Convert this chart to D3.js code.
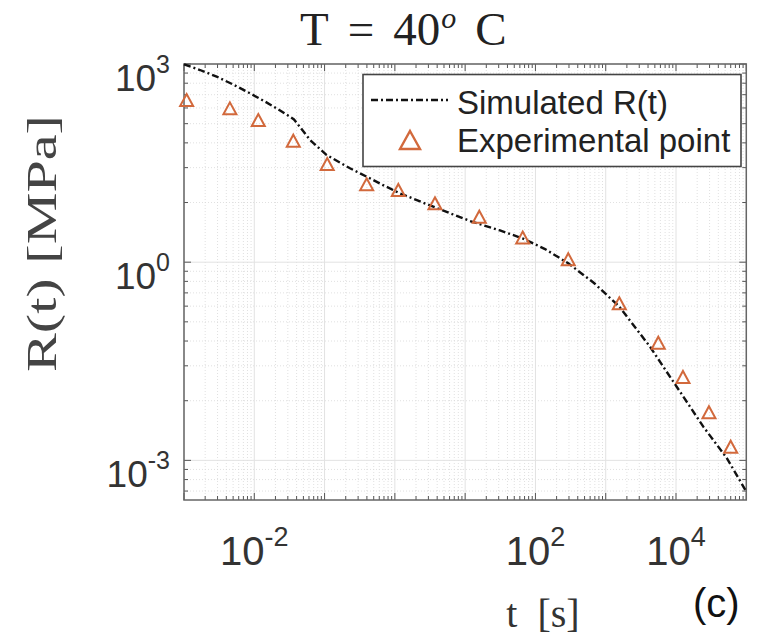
<!DOCTYPE html>
<html>
<head>
<meta charset="utf-8">
<script src="https://cdn.jsdelivr.net/npm/d3@7"></script>
<style>
  html, body { margin: 0; padding: 0; background: #fff; }
  svg { display: block; }
</style>
</head>
<body>
<svg id="chart" width="769" height="637"></svg>
<script>
// ---------- data ----------
const expTime = [0.00109, 0.0045, 0.0114, 0.0359, 0.109, 0.397, 1.12, 3.72, 15.9, 65.9, 293, 1560, 5600, 12560, 29440, 60000];
const expR    = [285, 213, 142, 69, 30.6, 15.1, 12.4, 7.78, 4.88, 2.36, 1.11, 0.239, 0.0604, 0.0183, 0.00536, 0.00161];

const simTime = [0.001, 0.00169, 0.00292, 0.00498, 0.00869, 0.0142, 0.0208, 0.0302, 0.0367, 0.0447, 0.0621, 0.107, 0.230, 0.397, 0.678, 1.18, 3.52, 11.7, 31.3, 66.5, 137, 293, 681, 1560, 4265, 10230, 24430, 52600, 98900];
const simR    = [990, 811, 643, 490, 360, 270, 213, 166, 145, 111, 70.8, 41.9, 26.4, 19.7, 14.7, 11.0, 6.92, 4.20, 3.02, 2.28, 1.58, 0.962, 0.484, 0.212, 0.0526, 0.0130, 0.00324, 0.00109, 0.000344];

const xTickLabels = [1e-2, 1e2, 1e4];
const yTickLabels = [1e-3, 1e0, 1e3];
const seriesNames = ["Simulated R(t)", "Experimental point"];
const titleParts = ["T", "=", "40", "o", "C"];
const xLabelText = "t [s]";
const yLabelText = "R(t) [MPa]";
const panelText = "(c)";

// ---------- layout ----------
const svg = d3.select("#chart");
const L = 184, R = 746.3, T = 64, B = 500;
const markerColor = "#d2693c";

const x = d3.scaleLog().domain([1e-3, 1e5]).range([L, R]);
const y = d3.scaleLog().domain([Math.pow(10, -3.6), 1e3]).range([B, T]);

// grid values
const xMajor = d3.range(-3, 6).map(k => Math.pow(10, k));
const xMinor = [];
d3.range(-3, 5).forEach(k => { for (let m = 2; m <= 9; m++) xMinor.push(m * Math.pow(10, k)); });
const yMajor = [-3, 0, 3].map(k => Math.pow(10, k));
const yMinor = [];
[-6, -3, 0].forEach(k => { for (let m = 2; m <= 9; m++) { const v = Math.pow(10, k + 3 * Math.log10(m)); if (v >= y.domain()[0] && v <= 1e3) yMinor.push(v); } });

const grid = svg.append("g");
grid.selectAll(".xmin").data(xMinor).join("line")
  .attr("x1", d => x(d)).attr("x2", d => x(d)).attr("y1", T).attr("y2", B)
  .attr("stroke", "#d8d8d8").attr("stroke-width", 0.8).attr("stroke-dasharray", "1,2");
grid.selectAll(".ymin").data(yMinor).join("line")
  .attr("y1", d => y(d)).attr("y2", d => y(d)).attr("x1", L).attr("x2", R)
  .attr("stroke", "#d8d8d8").attr("stroke-width", 0.8).attr("stroke-dasharray", "1,2");
grid.selectAll(".xmaj").data(xMajor).join("line")
  .attr("x1", d => x(d)).attr("x2", d => x(d)).attr("y1", T).attr("y2", B)
  .attr("stroke", "#e2e2e2").attr("stroke-width", 1);
grid.selectAll(".ymaj").data(yMajor).join("line")
  .attr("y1", d => y(d)).attr("y2", d => y(d)).attr("x1", L).attr("x2", R)
  .attr("stroke", "#e2e2e2").attr("stroke-width", 1);

// ticks (inward, all four sides)
const tk = svg.append("g").attr("stroke", "#555").attr("stroke-width", 1);
xMinor.forEach(v => {
  tk.append("line").attr("x1", x(v)).attr("x2", x(v)).attr("y1", B).attr("y2", B - 4);
  tk.append("line").attr("x1", x(v)).attr("x2", x(v)).attr("y1", T).attr("y2", T + 4);
});
xMajor.forEach(v => {
  tk.append("line").attr("x1", x(v)).attr("x2", x(v)).attr("y1", B).attr("y2", B - 7);
  tk.append("line").attr("x1", x(v)).attr("x2", x(v)).attr("y1", T).attr("y2", T + 7);
});
yMinor.forEach(v => {
  tk.append("line").attr("y1", y(v)).attr("y2", y(v)).attr("x1", L).attr("x2", L + 4);
  tk.append("line").attr("y1", y(v)).attr("y2", y(v)).attr("x1", R).attr("x2", R - 4);
});
yMajor.forEach(v => {
  tk.append("line").attr("y1", y(v)).attr("y2", y(v)).attr("x1", L).attr("x2", L + 7);
  tk.append("line").attr("y1", y(v)).attr("y2", y(v)).attr("x1", R).attr("x2", R - 7);
});

// axes box
svg.append("rect").attr("x", L).attr("y", T).attr("width", R - L).attr("height", B - T)
  .attr("fill", "none").attr("stroke", "#666").attr("stroke-width", 1.5);

// tick labels
const expo = v => String(Math.round(Math.log10(v)));
const xl = svg.append("g").attr("font-family", "'Liberation Sans', Arial, sans-serif").attr("fill", "#333");
xTickLabels.forEach(v => {
  const t = xl.append("text").attr("x", x(v)).attr("y", B + 65).attr("text-anchor", "middle");
  t.append("tspan").attr("font-size", 40).text("10");
  t.append("tspan").attr("font-size", 27).attr("dy", -19).text(expo(v));
});
yTickLabels.forEach(v => {
  const t = xl.append("text").attr("x", L - 14).attr("y", y(v) + 27).attr("text-anchor", "end");
  t.append("tspan").attr("font-size", 37).text("10");
  t.append("tspan").attr("font-size", 25).attr("dy", -18).text(expo(v));
});

// simulated line
const line = d3.line().x((d, i) => x(simTime[i])).y((d, i) => y(simR[i]));
svg.append("path").datum(simR).attr("d", line)
  .attr("fill", "none").attr("stroke", "#111").attr("stroke-width", 2.4)
  .attr("stroke-dasharray", "7,3,2,3");

// triangles
const triPath = (w, h) => `M0,${-h / 2}L${w / 2},${h / 2}L${-w / 2},${h / 2}Z`;
svg.append("g").selectAll("path").data(expR).join("path")
  .attr("d", triPath(13, 12))
  .attr("transform", (d, i) => `translate(${x(expTime[i])},${y(d)})`)
  .attr("fill", "none").attr("stroke", markerColor).attr("stroke-width", 2);

// legend
const lg = svg.append("g");
lg.append("rect").attr("x", 363).attr("y", 74.5).attr("width", 378).attr("height", 92)
  .attr("fill", "#fff").attr("stroke", "#444").attr("stroke-width", 1.6);
lg.append("line").attr("x1", 371).attr("x2", 448).attr("y1", 100).attr("y2", 100)
  .attr("stroke", "#111").attr("stroke-width", 2.4).attr("stroke-dasharray", "7,3,2,3");
lg.append("path").attr("d", triPath(20, 18)).attr("transform", "translate(410,140)")
  .attr("fill", "none").attr("stroke", markerColor).attr("stroke-width", 2.4);
lg.selectAll("text").data(seriesNames).join("text")
  .attr("x", 457).attr("y", (d, i) => 114 + i * 38)
  .attr("font-family", "'Liberation Sans', Arial, sans-serif").attr("font-size", 33)
  .attr("fill", "#222").text(d => d);

// title
const tt = svg.append("text").attr("x", 300).attr("y", 45)
  .attr("font-family", "'Liberation Serif', 'Times New Roman', serif").attr("font-size", 47).attr("fill", "#222");
tt.append("tspan").text(titleParts[0]);
tt.append("tspan").attr("dx", 19).text(titleParts[1]);
tt.append("tspan").attr("dx", 19).text(titleParts[2]);
tt.append("tspan").attr("font-size", 30).attr("font-style", "italic").attr("dx", 1).attr("dy", -17).text(titleParts[3]);
tt.append("tspan").attr("dx", 19).attr("dy", 17).text(titleParts[4]);

// axis labels
svg.append("text").attr("transform", "translate(56,243.5) rotate(-90)").attr("text-anchor", "middle")
  .attr("font-family", "'Liberation Serif', 'Times New Roman', serif").attr("font-size", 42).attr("fill", "#444")
  .attr("textLength", 257).attr("lengthAdjust", "spacingAndGlyphs")
  .text(yLabelText);
svg.append("text").attr("x", 543).attr("y", 627).attr("text-anchor", "middle")
  .attr("font-family", "'Liberation Serif', 'Times New Roman', serif").attr("font-size", 40).attr("fill", "#333")
  .attr("xml:space", "preserve")
  .text(xLabelText.replace(" ", "  "));
svg.append("text").attr("x", 693).attr("y", 617)
  .attr("font-family", "'Liberation Sans', Arial, sans-serif").attr("font-size", 40).attr("fill", "#111")
  .text(panelText);
</script>
</body>
</html>
